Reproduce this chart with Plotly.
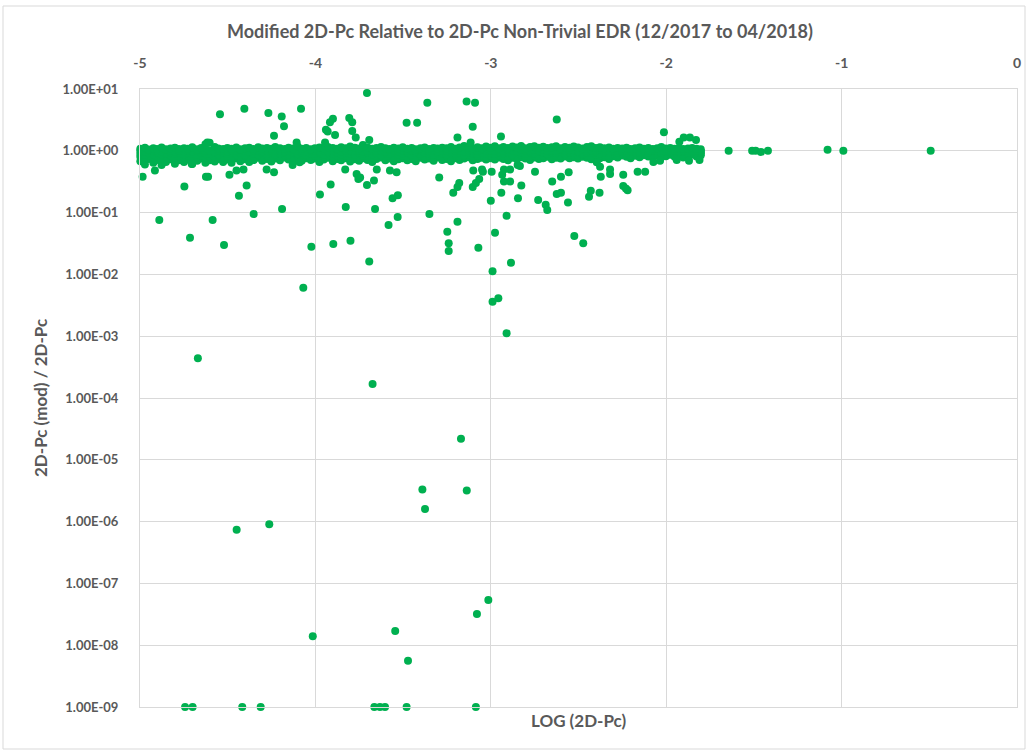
import plotly.graph_objects as go

TITLE = "Modified 2D-Pc Relative to 2D-Pc Non-Trivial EDR (12/2017 to 04/2018)"
X_TITLE = "LOG (2D-Pc)"
Y_TITLE = "2D-Pc (mod) / 2D-Pc"

x_ticks = [-5, -4, -3, -2, -1, 0]
y_ticks = [1e1, 1e0, 1e-1, 1e-2, 1e-3, 1e-4, 1e-5, 1e-6, 1e-7, 1e-8, 1e-9]
y_tick_text = ["1.00E+01", "1.00E+00", "1.00E-01", "1.00E-02", "1.00E-03", "1.00E-04",
               "1.00E-05", "1.00E-06", "1.00E-07", "1.00E-08", "1.00E-09"]

# dense band of points around ratio = 1
band_x = [
    -4.998, -4.972, -4.951, -4.924, -4.903, -4.877, -4.852, -4.826, -4.801, -4.778,
    -4.749, -4.727, -4.702, -4.674, -4.651, -4.627, -4.603, -4.574, -4.553, -4.526,
    -4.502, -4.478, -4.451, -4.428, -4.401, -4.377, -4.352, -4.326, -4.303, -4.276,
    -4.251, -4.229, -4.202, -4.175, -4.153, -4.127, -4.101, -4.078, -4.052, -4.026,
    -4.003, -3.977, -3.952, -3.928, -3.901, -3.876, -3.853, -3.827, -3.802, -3.775,
    -3.751, -3.729, -3.703, -3.676, -3.652, -3.626, -3.601, -3.578, -3.553, -3.527,
    -3.502, -3.476, -3.451, -3.428, -3.401, -3.377, -3.352, -3.326, -3.303, -3.277,
    -3.252, -3.227, -3.201, -3.178, -3.152, -3.126, -3.103, -3.076, -3.051, -3.027,
    -3.002, -2.977, -2.952, -2.928, -2.902, -2.876, -2.851, -2.827, -2.803, -2.776,
    -2.752, -2.726, -2.701, -2.677, -2.652, -2.628, -2.602, -2.577, -2.551, -2.527,
    -2.503, -2.476, -2.452, -2.427, -2.401, -2.378, -2.352, -2.326, -2.302, -2.277,
    -2.251, -2.226, -2.203, -2.177, -2.152, -2.127, -2.102, -2.076, -2.051, -2.028,
    -2.002, -1.977, -1.952, -1.927, -1.903, -1.876, -1.852, -1.827, -1.803,
]
band_hi = [
    1.08, 1.12, 1.05, 1.10, 1.07, 1.13, 1.06, 1.09, 1.12, 1.07,
    1.10, 1.08, 1.14, 1.06, 1.11, 1.28, 1.35, 1.15, 1.09, 1.07,
    1.11, 1.08, 1.13, 1.06, 1.10, 1.12, 1.07, 1.14, 1.09, 1.11,
    1.08, 1.15, 1.10, 1.07, 1.12, 1.09, 1.17, 1.08, 1.11, 1.06,
    1.10, 1.13, 1.09, 1.15, 1.11, 1.08, 1.14, 1.10, 1.17, 1.12,
    1.09, 1.24, 1.13, 1.08, 1.11, 1.15, 1.10, 1.07, 1.12, 1.09,
    1.14, 1.08, 1.11, 1.06, 1.10, 1.13, 1.07, 1.11, 1.09, 1.12,
    1.10, 1.15, 1.08, 1.13, 1.20, 1.11, 1.09, 1.14, 1.10, 1.17,
    1.12, 1.19, 1.10, 1.15, 1.11, 1.17, 1.13, 1.20, 1.10, 1.15,
    1.18, 1.12, 1.16, 1.11, 1.14, 1.19, 1.10, 1.15, 1.12, 1.17,
    1.13, 1.09, 1.15, 1.18, 1.11, 1.14, 1.10, 1.13, 1.08, 1.11,
    1.09, 1.12, 1.07, 1.10, 1.13, 1.08, 1.11, 1.07, 1.10, 1.15,
    1.09, 1.11, 1.08, 1.10, 1.07, 1.09, 1.11, 1.08, 1.06,
]
band_one = [
    1.00, 0.97, 1.02, 0.99, 1.01, 0.98, 1.03, 1.00, 0.97, 1.01,
    0.99, 1.02, 0.98, 1.00, 1.03, 0.99, 1.01, 0.97, 1.02, 1.00,
    0.98, 1.01, 0.99, 1.03, 1.00, 0.97, 1.02, 1.00, 0.98, 1.01,
    1.02, 0.99, 1.01, 0.98, 1.00, 1.03, 0.99, 1.01, 0.97, 1.02,
    1.00, 0.98, 1.02, 0.99, 1.01, 1.03, 0.98, 1.00, 1.02, 0.99,
    1.01, 0.98, 1.00, 1.02, 0.99, 1.01, 0.97, 1.03, 1.00, 0.98,
    1.02, 0.99, 1.01, 0.98, 1.03, 1.00, 0.99, 1.02, 0.98, 1.01,
    1.00, 1.03, 0.99, 1.01, 0.98, 1.02, 1.00, 0.99, 1.03, 1.01,
    1.02, 0.99, 1.03, 1.00, 1.04, 1.01, 0.99, 1.03, 1.02, 1.00,
    1.03, 1.01, 1.04, 0.99, 1.02, 1.00, 1.03, 1.01, 1.04, 1.02,
    1.01, 1.03, 0.99, 1.02, 1.00, 1.03, 1.01, 0.99, 1.02, 1.00,
    1.01, 0.99, 1.02, 1.00, 0.98, 1.01, 0.99, 1.02, 1.00, 1.01,
    0.99, 1.01, 1.00, 0.98, 1.01, 0.99, 1.00, 1.02, 0.99,
]
band_mid = [
    0.90, 0.86, 0.93, 0.88, 0.95, 0.87, 0.91, 0.94, 0.89, 0.92,
    0.88, 0.94, 0.90, 0.86, 0.93, 0.91, 0.89, 0.95, 0.87, 0.92,
    0.90, 0.94, 0.88, 0.92, 0.86, 0.95, 0.90, 0.87, 0.93, 0.89,
    0.94, 0.88, 0.91, 0.95, 0.87, 0.92, 0.90, 0.93, 0.86, 0.91,
    0.89, 0.93, 0.87, 0.95, 0.90, 0.92, 0.88, 0.94, 0.91, 0.87,
    0.93, 0.90, 0.95, 0.88, 0.92, 0.86, 0.94, 0.90, 0.93, 0.88,
    0.91, 0.95, 0.87, 0.92, 0.89, 0.94, 0.90, 0.86, 0.93, 0.91,
    0.88, 0.94, 0.90, 0.93, 0.87, 0.95, 0.91, 0.89, 0.94, 0.90,
    0.93, 0.89, 0.95, 0.91, 0.94, 0.88, 0.96, 0.92, 0.90, 0.95,
    0.91, 0.96, 0.93, 0.89, 0.95, 0.92, 0.97, 0.90, 0.94, 0.92,
    0.96, 0.90, 0.94, 0.92, 0.97, 0.91, 0.95, 0.93, 0.98, 0.94,
    0.96, 0.93, 0.98, 0.95, 0.92, 0.97, 0.94, 0.99, 0.96, 0.93,
    0.97, 0.95, 0.99, 0.96, 0.98, 0.94, 0.97, 0.99, 0.96,
]
band_q = [
    0.80, 0.77, 0.83, 0.79, 0.82, 0.76, 0.81, 0.84, 0.78, 0.82,
    0.79, 0.83, 0.77, 0.81, 0.84, 0.78, 0.82, 0.80, 0.83, 0.79,
    0.82, 0.78, 0.84, 0.80, 0.83, 0.79, 0.81, 0.85, 0.80, 0.83,
    0.79, 0.84, 0.81, 0.85, 0.82, 0.78, 0.83, 0.80, 0.84, 0.81,
    0.83, 0.79, 0.82, 0.85, 0.80, 0.83, 0.81, 0.84, 0.79, 0.82,
    0.80, 0.84, 0.81, 0.79, 0.83, 0.85, 0.80, 0.83, 0.79, 0.82,
    0.84, 0.80, 0.83, 0.79, 0.85, 0.81, 0.84, 0.80, 0.85, 0.81,
    0.83, 0.79, 0.84, 0.81, 0.83, 0.86, 0.80, 0.83, 0.85, 0.81,
    0.84, 0.81, 0.85, 0.82, 0.80, 0.84, 0.82, 0.86, 0.83, 0.80,
    0.85, 0.82, 0.84, 0.87, 0.81, 0.84, 0.83, 0.87, 0.82, 0.85,
    0.83, 0.86, 0.84, 0.81, 0.87, 0.83, 0.86, 0.82, 0.88, 0.85,
    0.89, 0.86, 0.84, 0.88, 0.85, 0.90, 0.87, 0.84, 0.89, 0.86,
    0.88, 0.91, 0.86, 0.89, 0.85, 0.88, 0.92, 0.87, 0.90,
]
band_lo = [
    0.68, 0.60, 0.74, 0.64, 0.71, 0.59, 0.66, 0.73, 0.62, 0.70,
    0.66, 0.72, 0.61, 0.69, 0.75, 0.64, 0.70, 0.67, 0.74, 0.66,
    0.72, 0.64, 0.76, 0.68, 0.73, 0.66, 0.71, 0.77, 0.69, 0.74,
    0.67, 0.75, 0.70, 0.78, 0.72, 0.66, 0.74, 0.69, 0.76, 0.71,
    0.75, 0.66, 0.72, 0.77, 0.68, 0.74, 0.70, 0.76, 0.67, 0.73,
    0.69, 0.76, 0.71, 0.66, 0.74, 0.78, 0.70, 0.75, 0.68, 0.73,
    0.76, 0.70, 0.74, 0.68, 0.77, 0.72, 0.75, 0.69, 0.78, 0.71,
    0.74, 0.68, 0.76, 0.71, 0.75, 0.79, 0.70, 0.74, 0.77, 0.72,
    0.76, 0.72, 0.78, 0.74, 0.70, 0.77, 0.73, 0.79, 0.75, 0.71,
    0.78, 0.74, 0.76, 0.80, 0.73, 0.77, 0.75, 0.81, 0.76, 0.79,
    0.75, 0.80, 0.77, 0.73, 0.81, 0.76, 0.79, 0.74, 0.82, 0.78,
    0.84, 0.80, 0.76, 0.83, 0.79, 0.85, 0.81, 0.78, 0.84, 0.80,
    0.82, 0.86, 0.80, 0.84, 0.78, 0.83, 0.87, 0.81, 0.85,
]

# scattered points between ~0.001 and ~10
scatter_pts = [
    (-4.985, 0.38), (-4.915, 0.48), (-4.747, 0.264), (-4.89, 0.076), (-4.715, 0.039),
    (-4.705, 0.61), (-4.624, 0.38), (-4.612, 0.38), (-4.616, 1.36), (-4.586, 0.076),
    (-4.521, 0.030), (-4.544, 3.9), (-4.49, 0.41), (-4.45, 0.48), (-4.41, 0.50),
    (-4.436, 0.187), (-4.392, 0.275), (-4.405, 4.8), (-4.352, 0.095), (-4.278, 0.50),
    (-4.268, 4.1), (-4.236, 1.75), (-4.236, 0.45), (-4.192, 3.6), (-4.179, 2.5),
    (-4.19, 0.114), (-4.13, 0.59), (-4.09, 0.65), (-4.107, 1.36), (-4.082, 4.8),
    (-4.069, 0.0061), (-4.023, 0.028), (-3.974, 0.196), (-3.945, 1.36), (-3.94, 2.2),
    (-3.93, 2.05), (-3.917, 2.9), (-3.90, 3.3), (-3.913, 0.285), (-3.898, 0.031),
    (-3.888, 1.8), (-3.83, 0.50), (-3.827, 0.123), (-3.807, 3.4), (-3.79, 2.9),
    (-3.79, 2.1), (-3.77, 1.64), (-3.80, 0.035), (-3.765, 0.42), (-3.755, 0.35),
    (-3.745, 0.37), (-3.706, 8.6), (-3.693, 1.5), (-3.706, 0.28), (-3.666, 0.33),
    (-3.66, 0.114), (-3.693, 0.0162), (-3.65, 0.50), (-3.583, 0.063), (-3.575, 0.48),
    (-3.537, 0.45), (-3.56, 0.17), (-3.53, 0.19), (-3.531, 0.085), (-3.48, 2.84),
    (-3.42, 2.84), (-3.362, 6.0), (-3.35, 0.095), (-3.294, 0.37), (-3.248, 0.049),
    (-3.24, 0.032), (-3.24, 0.024), (-3.214, 0.21), (-3.19, 0.26), (-3.18, 0.30),
    (-3.19, 0.071), (-3.19, 1.64), (-3.138, 6.3), (-3.09, 6.0), (-3.103, 2.45),
    (-3.115, 1.36), (-3.10, 0.48), (-3.103, 0.26), (-3.085, 0.30), (-3.066, 0.35),
    (-3.071, 0.027), (-3.05, 0.50), (-3.045, 0.46), (-3.0, 0.155), (-2.995, 0.46),
    (-2.976, 0.047), (-2.99, 0.0112), (-2.99, 0.0036), (-2.957, 0.0041), (-2.942, 1.70),
    (-2.94, 0.21), (-2.935, 0.41), (-2.925, 0.50), (-2.89, 0.50), (-2.925, 0.32),
    (-2.89, 0.32), (-2.91, 0.089), (-2.885, 0.0155), (-2.91, 0.00112), (-2.847, 0.59),
    (-2.834, 0.57), (-2.845, 0.17), (-2.826, 0.275), (-2.748, 0.46), (-2.73, 0.16),
    (-2.687, 0.134), (-2.678, 0.11), (-2.65, 0.32), (-2.624, 3.2), (-2.624, 0.20),
    (-2.60, 0.21), (-2.60, 0.38), (-2.556, 0.45), (-2.56, 0.146), (-2.524, 0.042),
    (-2.473, 0.032), (-2.43, 0.225), (-2.44, 0.18), (-2.396, 0.65), (-2.377, 0.55),
    (-2.373, 0.38), (-2.32, 0.42), (-2.32, 0.50), (-2.38, 0.21), (-2.245, 0.41),
    (-2.245, 0.27), (-2.23, 0.245), (-2.22, 0.23), (-2.163, 0.46), (-2.12, 0.46),
    (-2.073, 0.66), (-2.035, 0.69), (-2.013, 2.0), (-1.94, 0.71), (-1.87, 0.69),
    (-1.81, 0.71), (-1.925, 1.40), (-1.90, 1.64), (-1.865, 1.64), (-1.83, 1.49),
    (-1.644, 1.0), (-1.51, 1.0), (-1.49, 1.0), (-1.46, 0.96), (-1.42, 1.0),
    (-1.08, 1.04), (-0.99, 1.0), (-0.492, 1.0),
]

# deep tail of very small ratios
tail_pts = [
    (-4.67, 4.4e-4), (-4.449, 7.4e-7), (-4.263, 9.1e-7), (-3.674, 1.68e-4),
    (-3.17, 2.2e-5), (-3.39, 3.3e-6), (-3.375, 1.6e-6), (-3.137, 3.2e-6),
    (-3.014, 5.4e-8), (-3.079, 3.2e-8), (-4.015, 1.4e-8), (-3.545, 1.7e-8),
    (-3.472, 5.6e-9),
]

# points sitting on the 1.00E-09 floor
floor_x = [-4.743, -4.70, -4.417, -4.312, -3.664, -3.632, -3.603, -3.48, -3.085]
floor_value = 1e-9

xs, ys = [], []
for row in (band_lo, band_q, band_mid, band_one, band_hi):
    for bx, by in zip(band_x, row):
        xs.append(bx)
        ys.append(by)
for px, py in scatter_pts + tail_pts:
    xs.append(px)
    ys.append(py)
for fx in floor_x:
    xs.append(fx)
    ys.append(floor_value)

GREEN = "#00B050"
GRID = "#D9D9D9"
TEXT = "#595959"
FONT = "Lato, Open Sans, sans-serif"

L, R, T, B = 140, 1017, 89, 707
PW, PH = R - L, B - T

def px_x(p):
    return (p - L) / PW

def px_y(p):
    return (B - p) / PH

fig = go.Figure()
fig.add_trace(go.Scatter(
    x=xs, y=ys, mode="markers",
    marker=dict(color=GREEN, size=8, line=dict(width=0)),
    cliponaxis=False, showlegend=False, hoverinfo="x+y",
))

fig.update_layout(
    width=1028, height=752,
    margin=dict(l=L, r=1028 - R, t=T, b=752 - B, autoexpand=False),
    paper_bgcolor="white", plot_bgcolor="white",
    font=dict(family=FONT, color=TEXT),
    xaxis=dict(
        range=[-5, 0], side="top", tickvals=x_ticks,
        ticktext=["<b>%d</b>" % v for v in x_ticks],
        showgrid=True, gridcolor=GRID, gridwidth=1,
        showline=True, linecolor=GRID, linewidth=1, mirror=True,
        zeroline=False, ticks="", ticklabelstandoff=14,
        tickfont=dict(size=14, color=TEXT, family=FONT),
    ),
    yaxis=dict(
        type="log", range=[-9, 1], tickvals=y_ticks,
        ticktext=["<b>%s</b>" % t for t in y_tick_text],
        showgrid=True, gridcolor=GRID, gridwidth=1,
        showline=True, linecolor=GRID, linewidth=1, mirror=True,
        zeroline=False, ticks="", ticklabelstandoff=18,
        tickfont=dict(size=13, color=TEXT, family=FONT),
    ),
    annotations=[
        dict(text="<b>" + TITLE + "</b>", xref="paper", yref="paper",
             x=px_x(520), y=px_y(31), xanchor="center", yanchor="middle",
             showarrow=False, font=dict(size=18, color=TEXT, family=FONT)),
        dict(text="<b>" + X_TITLE + "</b>", xref="paper", yref="paper",
             x=0.5, y=px_y(720), xanchor="center", yanchor="middle",
             showarrow=False, font=dict(size=17, color=TEXT, family=FONT)),
        dict(text="<b>" + Y_TITLE + "</b>", xref="paper", yref="paper",
             x=px_x(40), y=0.5, xanchor="center", yanchor="middle", textangle=-90,
             showarrow=False, font=dict(size=17, color=TEXT, family=FONT)),
    ],
    shapes=[dict(
        type="rect", xref="paper", yref="paper",
        x0=px_x(3), x1=px_x(1025), y0=px_y(749), y1=px_y(6),
        line=dict(color=GRID, width=1), fillcolor="rgba(0,0,0,0)", layer="below",
    )],
)

fig.write_html("out.html", config={"displayModeBar": False},
               post_script="document.body.style.margin='0';")
